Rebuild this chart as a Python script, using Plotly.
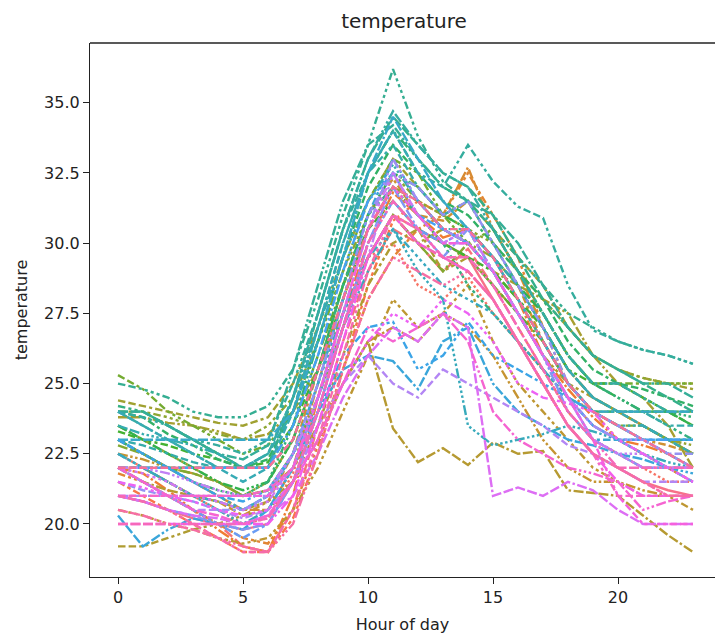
import math
import itertools
import plotly.graph_objects as go

hours = list(range(24))

day00 = [21.0,20.8,20.5,20.2,20.0,19.8,20.0,21.5,24.0,27.0,29.5,31.0,30.5,30.0,29.5,28.0,26.5,25.0,23.5,22.5,22.0,21.5,21.2,21.0]
day01 = [22.0,21.5,21.0,20.5,20.0,19.2,19.0,20.5,23.5,26.5,29.0,30.5,30.0,29.0,29.8,28.5,27.0,25.5,24.0,23.0,22.5,22.0,22.0,22.0]
day02 = [22.5,22.0,21.5,21.0,20.5,20.0,20.2,21.8,24.5,27.5,29.5,30.0,28.5,28.0,28.8,27.5,26.5,25.5,24.0,23.0,22.5,22.0,21.5,21.5]
day03 = [21.5,21.0,20.5,20.0,19.5,19.0,19.0,20.2,22.5,25.5,28.5,30.8,31.5,30.5,30.0,29.0,27.5,26.0,24.5,23.5,23.0,22.5,22.0,21.5]
day04 = [22.0,21.8,21.2,20.5,19.8,19.2,19.0,21.0,24.5,27.5,30.0,31.8,31.0,30.2,30.5,29.5,28.0,26.0,24.8,23.8,23.0,22.8,22.5,22.0]
day05 = [21.8,21.5,21.0,20.5,20.0,19.5,19.3,20.5,22.8,25.5,28.0,29.5,30.5,31.0,32.5,31.0,29.5,27.0,25.0,24.0,23.0,22.5,22.0,21.5]
day06 = [23.0,22.5,22.0,21.5,21.0,20.5,20.5,22.0,25.0,28.0,30.5,32.0,31.5,31.0,32.7,30.5,29.0,27.0,25.5,24.5,24.0,23.5,23.0,22.5]
day07 = [22.0,22.0,21.5,21.0,20.8,20.3,20.8,22.5,25.5,28.5,31.0,32.3,31.0,30.8,31.5,30.0,28.5,26.5,25.0,24.0,23.5,23.0,22.8,22.5]
day08 = [22.5,22.3,22.0,21.8,21.5,21.0,21.2,22.0,23.5,25.0,26.5,27.0,26.5,27.5,27.0,26.0,24.5,23.0,22.0,21.5,21.5,21.2,21.0,21.0]
day09 = [20.5,20.3,20.0,19.8,19.5,19.3,19.5,20.5,22.0,24.0,26.0,28.0,27.0,27.5,28.5,26.5,25.0,24.0,23.0,22.0,21.5,21.0,21.0,20.5]
day10 = [22.0,21.5,21.2,21.0,20.8,20.5,20.8,21.5,23.0,25.0,26.5,23.4,22.2,22.7,22.1,22.9,22.5,22.6,21.2,21.1,21.0,20.3,19.6,19.0]
day11 = [19.2,19.2,19.5,19.8,20.0,20.3,20.5,21.5,23.5,26.0,28.5,30.0,30.5,29.0,29.5,28.5,27.5,26.0,25.0,24.5,24.0,23.5,23.0,22.5]
day12 = [23.8,23.8,23.6,23.5,23.3,23.0,23.2,24.0,25.5,27.5,29.5,31.0,30.0,30.5,30.0,29.0,28.5,28.0,27.5,26.0,25.0,24.5,23.5,22.0]
day13 = [24.4,24.2,24.0,23.8,23.6,23.5,23.8,25.0,27.0,29.5,31.5,33.0,32.0,31.0,31.5,30.5,29.5,28.5,27.0,26.0,25.5,25.2,25.0,24.8]
day14 = [23.5,23.0,22.5,22.0,21.5,21.0,21.5,23.0,25.5,28.0,30.5,32.0,31.5,30.5,30.0,29.5,28.5,27.0,25.5,24.5,24.0,23.5,23.0,22.8]
day15 = [24.0,24.0,23.8,23.5,23.2,23.0,23.5,24.5,26.5,29.0,31.0,32.5,31.5,31.0,30.5,30.0,29.0,28.0,27.0,26.0,25.5,25.2,25.0,25.0]
day16 = [22.8,22.5,22.0,21.8,21.5,21.0,21.2,22.5,24.5,27.0,29.5,31.0,30.0,29.0,30.0,29.0,28.0,26.5,25.0,24.0,23.5,23.5,23.0,22.5]
day17 = [25.3,24.8,24.0,23.5,23.0,22.5,22.8,24.0,26.5,29.0,31.5,33.0,32.5,31.0,30.0,30.5,29.0,27.5,26.0,25.0,25.0,25.0,25.0,25.0]
day18 = [22.0,22.0,22.0,22.0,22.0,22.0,22.0,23.5,26.0,28.5,30.5,32.0,31.0,30.0,29.5,28.5,27.5,26.5,25.0,24.0,24.0,24.0,24.0,24.0]
day19 = [23.3,23.0,22.8,22.5,22.3,22.0,22.2,23.5,25.5,28.0,30.5,31.5,30.5,30.0,29.5,29.0,28.0,27.0,25.5,25.0,25.0,24.5,24.0,23.5]
day20 = [23.5,23.0,22.5,22.0,21.5,21.2,21.5,23.0,25.5,28.5,31.0,32.5,32.0,31.0,30.5,29.5,28.5,27.5,26.0,25.0,24.5,24.0,24.0,23.5]
day21 = [24.0,23.8,23.2,22.8,22.3,22.0,22.3,24.0,26.5,29.5,32.0,33.5,32.5,31.5,31.0,30.0,29.0,28.0,26.5,25.5,25.0,24.8,24.5,24.2]
day22 = [23.0,22.5,22.0,21.5,21.2,21.0,21.5,23.5,26.5,29.5,32.5,34.0,33.0,32.0,31.5,30.5,29.0,27.5,26.0,25.0,24.5,24.0,24.0,23.8]
day23 = [24.2,24.0,23.5,23.0,22.5,22.0,22.0,23.0,25.5,28.5,31.0,32.0,31.0,30.0,28.5,27.5,26.5,25.5,24.5,24.0,24.0,24.0,23.5,23.0]
day24 = [24.0,24.0,23.5,23.0,22.5,22.0,22.0,24.5,27.5,30.5,33.0,34.5,33.5,32.5,32.0,31.0,29.5,28.0,27.0,26.0,25.5,25.0,24.5,24.0]
day25 = [25.0,24.8,24.5,24.0,23.8,23.8,24.2,25.5,28.0,31.0,33.5,36.2,33.8,32.2,31.5,30.5,29.5,28.5,27.5,27.0,26.5,26.2,26.0,25.7]
day26 = [24.0,24.0,23.5,23.0,22.5,22.3,22.8,25.5,28.5,31.5,33.5,34.2,33.0,32.0,31.5,31.0,30.0,28.5,27.0,26.0,25.5,25.0,25.0,24.5]
day27 = [24.0,23.8,23.5,23.0,22.8,22.5,23.0,25.0,27.5,30.5,32.5,34.0,32.5,32.0,33.5,32.2,31.3,30.9,28.5,26.9,26.5,26.2,26.0,25.7]
day28 = [24.0,23.5,23.0,22.5,22.0,22.0,22.5,24.5,27.5,30.5,33.0,34.7,33.5,32.5,32.0,30.5,29.0,27.5,26.0,25.0,25.0,24.5,24.0,24.0]
day29 = [23.0,22.8,22.5,22.2,22.0,22.0,22.5,24.0,27.0,30.0,32.5,33.5,32.0,31.0,31.5,30.0,28.5,27.0,25.5,24.5,24.0,24.0,23.5,23.5]
day30 = [23.5,23.2,23.0,22.8,22.5,22.0,22.5,24.5,27.0,29.5,31.5,32.8,31.5,30.5,30.5,29.5,28.0,26.5,25.0,24.0,23.5,23.5,23.0,23.0]
day31 = [24.0,23.5,23.0,22.5,22.0,21.5,22.0,24.0,27.0,30.0,32.5,34.0,32.5,31.5,30.5,29.5,28.5,27.0,25.5,24.5,24.0,23.5,23.0,22.5]
day32 = [22.5,22.0,21.5,21.0,20.5,20.0,20.5,22.0,24.5,27.0,29.0,30.5,29.0,28.0,23.5,22.8,23.0,23.2,23.5,23.3,23.0,22.5,22.2,22.0]
day33 = [22.5,22.0,21.5,21.0,20.8,20.5,21.0,22.5,25.0,27.5,29.5,30.5,29.5,28.5,28.0,27.5,26.5,25.5,24.5,24.0,23.5,23.0,22.5,22.0]
day34 = [23.0,23.0,23.0,23.0,23.0,23.0,23.0,24.0,26.5,29.5,32.5,34.5,33.0,31.5,30.5,29.5,28.0,26.5,25.0,24.0,24.0,24.0,24.0,24.0]
day35 = [23.0,22.5,22.0,21.5,21.0,20.5,21.0,22.5,25.0,28.0,31.0,33.0,31.5,30.5,30.0,29.0,27.5,26.0,24.5,23.0,23.0,23.0,23.0,23.0]
day36 = [20.3,19.2,19.8,20.2,20.0,19.8,20.5,22.0,24.0,25.5,26.0,25.8,24.8,26.5,27.0,25.0,24.0,23.5,23.0,22.8,22.5,22.3,22.0,21.8]
day37 = [23.0,22.5,22.0,21.5,21.0,20.8,21.2,22.5,24.0,26.0,27.0,27.2,25.5,26.0,27.2,26.0,25.5,25.0,24.5,24.0,23.5,23.0,22.5,22.0]
day38 = [22.0,22.0,22.0,22.0,22.0,22.0,22.0,23.5,26.0,29.0,31.5,32.5,31.0,30.5,30.0,29.0,27.5,26.0,24.5,23.5,23.0,23.0,23.0,23.0]
day39 = [22.0,21.5,21.0,20.5,20.0,19.5,20.0,21.5,24.0,27.0,30.0,31.5,30.5,30.0,30.5,29.0,27.5,26.0,24.5,23.5,23.0,22.5,22.0,22.0]
day40 = [21.0,20.8,20.5,20.3,20.0,19.8,20.0,21.5,24.0,27.0,30.0,32.0,30.5,29.5,30.5,29.0,27.5,26.0,24.0,23.0,22.5,22.0,22.0,21.5]
day41 = [21.5,21.2,21.0,20.8,20.5,20.5,21.0,22.5,25.0,28.0,31.0,32.5,32.0,31.0,31.5,30.0,28.5,27.0,25.0,24.0,23.5,23.0,22.5,22.5]
day42 = [21.0,21.0,21.0,21.0,21.0,21.0,21.0,22.0,24.5,27.5,30.5,33.0,31.5,30.5,30.0,29.0,27.5,26.0,24.5,23.5,23.0,23.0,22.5,22.0]
day43 = [22.0,21.5,21.0,20.5,20.5,20.2,20.5,21.5,23.5,25.0,26.0,25.0,24.5,25.5,25.0,24.5,24.0,23.5,22.8,22.5,22.0,21.5,21.5,21.5]
day44 = [22.0,22.0,21.8,21.5,21.2,21.0,21.2,22.5,24.5,27.0,29.5,32.5,31.0,30.0,30.0,29.0,27.5,26.0,24.5,23.0,22.5,22.5,22.0,22.0]
day45 = [22.0,21.8,21.5,21.0,20.8,20.5,20.8,22.0,24.5,27.5,30.5,32.5,31.0,30.0,30.5,29.0,27.5,26.0,24.5,23.0,22.5,22.0,22.0,22.0]
day46 = [21.0,20.8,20.5,20.3,20.2,20.0,20.3,21.0,22.5,24.5,26.0,27.0,26.5,27.5,27.0,21.0,21.3,21.0,21.5,21.2,20.5,20.0,20.0,20.0]
day47 = [21.5,21.3,21.0,20.8,20.5,20.3,20.5,21.5,23.0,25.0,26.5,27.5,27.0,28.0,27.5,26.5,25.0,24.5,24.3,24.0,23.0,22.5,22.0,21.5]
day48 = [20.0,20.0,20.0,20.0,20.0,20.0,20.0,21.0,23.5,26.5,29.5,31.0,30.0,29.5,29.0,28.0,26.5,25.0,23.5,22.5,21.5,21.0,21.0,21.0]
day49 = [21.0,21.0,21.0,21.0,21.0,21.0,21.0,22.0,24.5,27.5,30.5,32.0,31.0,30.0,30.0,29.0,27.5,26.0,24.5,23.0,21.0,20.0,20.0,20.0]
day50 = [22.0,21.5,21.0,20.5,20.3,20.0,20.3,21.5,23.0,25.0,27.0,26.5,27.0,27.5,26.5,24.0,23.0,22.5,22.0,21.8,21.5,20.5,20.8,21.0]
day51 = [21.0,21.0,21.0,21.0,21.0,21.0,21.2,22.0,24.0,27.0,29.5,31.0,30.5,29.5,29.0,28.0,26.5,25.0,23.5,22.5,21.0,21.0,21.0,21.0]
day52 = [20.0,20.0,20.0,20.0,20.0,20.0,20.2,21.5,24.0,27.0,30.0,31.5,30.5,29.5,29.5,28.5,27.0,25.5,24.0,23.0,22.0,22.0,22.0,22.0]
day53 = [21.0,20.8,20.5,20.0,19.5,19.0,19.0,20.5,23.0,26.0,29.0,31.0,30.0,29.5,29.0,28.0,26.5,25.0,23.5,22.5,22.0,21.5,21.0,21.0]
day54 = [20.5,20.3,20.0,19.8,19.5,19.2,19.0,20.0,22.5,25.5,28.0,29.5,29.0,28.5,29.0,28.0,26.5,25.0,23.5,22.5,22.0,21.5,21.0,21.0]
day55 = [22.0,22.0,22.0,22.0,22.0,22.0,22.0,23.0,25.5,28.0,30.5,32.0,31.5,30.5,30.5,29.5,28.0,26.5,25.0,24.0,23.5,23.0,22.5,22.0]

days = [day00, day01, day02, day03, day04, day05, day06, day07, day08, day09,
        day10, day11, day12, day13, day14, day15, day16, day17, day18, day19,
        day20, day21, day22, day23, day24, day25, day26, day27, day28, day29,
        day30, day31, day32, day33, day34, day35, day36, day37, day38, day39,
        day40, day41, day42, day43, day44, day45, day46, day47, day48, day49,
        day50, day51, day52, day53, day54, day55]

x_ticks = [0, 5, 10, 15, 20]
y_ticks = [20.0, 22.5, 25.0, 27.5, 30.0, 32.5, 35.0]

# ---- husl palette (seaborn style) ----
_m = [[3.2406, -1.5372, -0.4986], [-0.9689, 1.8758, 0.0415], [0.0557, -0.2040, 1.0570]]
refU, refV = 0.19784, 0.46834
lab_e, lab_k = 0.008856, 903.3

def _max_chroma(L, H):
    hrad = math.radians(H)
    sinH, cosH = math.sin(hrad), math.cos(hrad)
    sub1 = (L + 16) ** 3 / 1560896.0
    sub2 = sub1 if sub1 > lab_e else L / lab_k
    res = float("inf")
    for m1, m2, m3 in _m:
        top = (0.99915 * m1 + 1.05122 * m2 + 1.14460 * m3) * sub2
        rb = 0.86330 * m3 - 0.17266 * m2
        lb = 0.12949 * m3 - 0.38848 * m1
        bottom = (rb * sinH + lb * cosH) * sub2
        for t in (0.0, 1.0):
            C = L * (top - 1.05122 * t) / (bottom + 0.17266 * sinH * t)
            if 0.0 < C < res:
                res = C
    return res

def _f_inv(t):
    return t ** 3 if t ** 3 > lab_e else (116.0 * t - 16.0) / lab_k

def _from_linear(c):
    return 12.92 * c if c <= 0.0031308 else 1.055 * c ** (1 / 2.4) - 0.055

def husl_to_hex(H, S, L):
    C = _max_chroma(L, H) / 100.0 * S
    hr = math.radians(H)
    U, V = math.cos(hr) * C, math.sin(hr) * C
    varY = _f_inv((L + 16.0) / 116.0)
    varU = U / (13.0 * L) + refU
    varV = V / (13.0 * L) + refV
    Y = varY
    X = -(9.0 * Y * varU) / ((varU - 4.0) * varV - varU * varV)
    Z = (9.0 * Y - 15.0 * varV * Y - varV * X) / (3.0 * varV)
    rgb = []
    for row in _m:
        c = _from_linear(row[0] * X + row[1] * Y + row[2] * Z)
        rgb.append(min(1.0, max(0.0, c)))
    return "#%02x%02x%02x" % tuple(int(round(v * 255)) for v in rgb)

def husl_palette(n, h=0.01, s=0.9, l=0.65):
    out = []
    for i in range(n):
        hue = ((i / n) + h) % 1 * 359
        out.append(husl_to_hex(hue, s * 99, l * 99))
    return out

def unique_dashes(n):
    dashes = ["", (4, 1.5), (1, 1), (3, 1.25, 1.5, 1.25), (5, 1, 1, 1)]
    p = 3
    while len(dashes) < n:
        a = itertools.combinations_with_replacement([3, 1.25], p)
        b = itertools.combinations_with_replacement([4, 1], p)
        seg_list = itertools.chain(*zip(list(a)[1:-1][::-1], list(b)[1:-1]))
        for segs in seg_list:
            gap = min(segs)
            dashes.append(tuple(itertools.chain(*((sg, gap) for sg in segs))))
        p += 1
    return dashes[:n]

n = len(days)
colors = husl_palette(n)
dashes = unique_dashes(n)
unit = 2.5

fig = go.Figure()
for i, vals in enumerate(days):
    d = dashes[i]
    dash = "solid" if d == "" else ",".join("%.2fpx" % (v * unit) for v in d)
    fig.add_trace(go.Scatter(x=hours, y=vals, mode="lines",
                             line=dict(color=colors[i], width=2.4, dash=dash),
                             showlegend=False, hoverinfo="skip"))

font_family = "DejaVu Sans"
fig.update_layout(
    width=715, height=639,
    margin=dict(l=90, r=0, t=43, b=62),
    paper_bgcolor="white", plot_bgcolor="white",
    font=dict(family=font_family, color="#222222", size=16),
    title=dict(text="temperature", x=(404 - 90) / 625, xref="paper", xanchor="center",
               y=1 - 21 / 639, yref="container", yanchor="middle",
               font=dict(size=20, family=font_family, color="#222222")),
)
fig.update_xaxes(range=[-1.12, 23.88], tickvals=x_ticks, ticktext=[str(v) for v in x_ticks],
                 showgrid=False, zeroline=False, showline=True, linecolor="#222222", linewidth=1.3,
                 ticks="outside", ticklen=6, tickwidth=1.3, tickcolor="#222222",
                 tickfont=dict(size=16), title=dict(text="Hour of day", font=dict(size=16), standoff=12))
fig.update_yaxes(range=[18.11, 37.13], tickvals=y_ticks, ticktext=["%.1f" % v for v in y_ticks],
                 showgrid=False, zeroline=False, showline=True, linecolor="#222222", linewidth=1.3,
                 ticks="outside", ticklen=6, tickwidth=1.3, tickcolor="#222222",
                 tickfont=dict(size=16), title=dict(text="temperature", font=dict(size=16), standoff=12))
fig.add_shape(type="line", xref="paper", yref="paper", x0=0, x1=1, y0=1, y1=1,
              line=dict(color="#222222", width=1.3))

fig.write_html("out.html")
